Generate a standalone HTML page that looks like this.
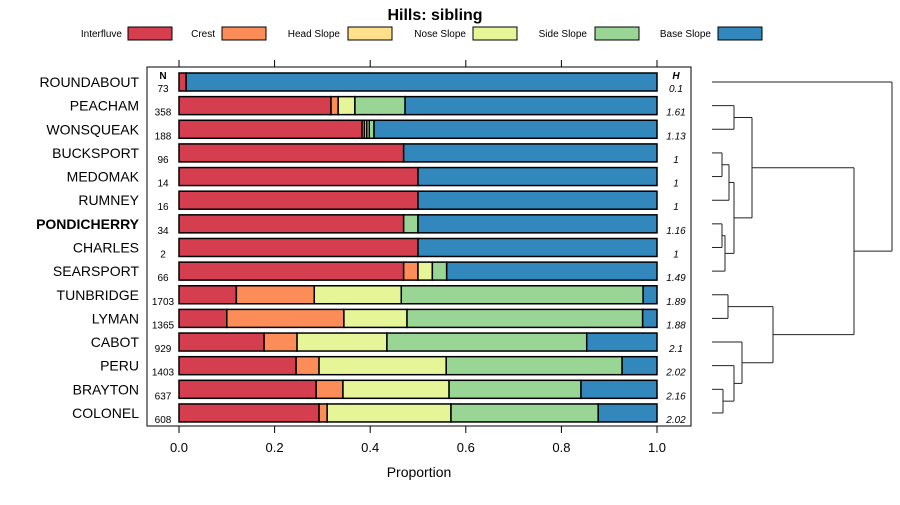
<!DOCTYPE html>
<html><head><meta charset="utf-8"><style>
body{margin:0;background:#fff;}
svg{font-family:"Liberation Sans","DejaVu Sans",sans-serif;}
</style></head><body>
<svg id="chart" width="900" height="500">
<text x="435" y="20" text-anchor="middle" font-size="16" font-weight="bold">Hills: sibling</text>
<g id="legend"></g>
<rect x="147" y="67" width="544" height="359" fill="none" stroke="#000" stroke-width="1"/>
<g id="bars"></g>
<g id="axis"></g>
<g id="dendro"></g>
<text x="419" y="477" text-anchor="middle" font-size="14">Proportion</text>
</svg>
<script>
const categories=["ROUNDABOUT","PEACHAM","WONSQUEAK","BUCKSPORT","MEDOMAK","RUMNEY","PONDICHERRY","CHARLES","SEARSPORT","TUNBRIDGE","LYMAN","CABOT","PERU","BRAYTON","COLONEL"];
const seriesNames=["Interfluve","Crest","Head Slope","Nose Slope","Side Slope","Base Slope"];
const interfluve=[0.015,0.318,0.383,0.47,0.5,0.5,0.47,0.5,0.47,0.12,0.10,0.178,0.245,0.287,0.293];
const crest=[0,0.015,0.005,0,0,0,0,0,0.03,0.163,0.245,0.069,0.048,0.056,0.017];
const headSlope=[0,0,0.005,0,0,0,0,0,0,0,0,0,0,0,0];
const noseSlope=[0,0.035,0.005,0,0,0,0,0,0.03,0.182,0.132,0.188,0.266,0.222,0.259];
const sideSlope=[0,0.105,0.01,0,0,0,0.03,0,0.03,0.506,0.493,0.418,0.368,0.276,0.308];
const baseSlope=[0.985,0.527,0.592,0.53,0.5,0.5,0.5,0.5,0.44,0.029,0.03,0.147,0.073,0.159,0.123];
const nValues=["73","358","188","96","14","16","34","2","66","1703","1365","929","1403","637","608"];
const hValues=["0.1","1.61","1.13","1","1","1","1.16","1","1.49","1.89","1.88","2.1","2.02","2.16","2.02"];
const xTicks=[0,0.2,0.4,0.6,0.8,1.0];
const xTickLabels=["0.0","0.2","0.4","0.6","0.8","1.0"];
const colors=["#d53e4f","#fc8d59","#fee08b","#e6f598","#99d594","#3288bd"];
const NS="http://www.w3.org/2000/svg";
function mk(t,a,p){const e=document.createElementNS(NS,t);for(const k in a)e.setAttribute(k,a[k]);p.appendChild(e);return e;}
const xs=v=>179+v*478;
const ys=i=>82+i*23.64;
const series=[interfluve,crest,headSlope,noseSlope,sideSlope,baseSlope];
const svgEl=document.getElementById('chart');
const bars=document.getElementById('bars');
const legX=[[122,128],[215,222],[340,348],[466,473],[587,595],[711,718]];
const leg=document.getElementById('legend');
seriesNames.forEach((n,j)=>{
  const t=mk('text',{x:legX[j][0],y:37,'text-anchor':'end','font-size':'10'},leg);t.textContent=n;
  
  
  const r=mk('rect',{x:legX[j][1],y:27,width:44,height:13,fill:colors[j],stroke:'#000','stroke-width':1},leg);
  
  
});
let hd=mk('text',{x:163,y:79,'text-anchor':'middle','font-size':'10','font-weight':'bold'},svgEl);hd.textContent='N';


hd=mk('text',{x:676,y:79,'text-anchor':'middle','font-size':'10','font-weight':'bold','font-style':'italic'},svgEl);hd.textContent='H';


categories.forEach((c,i)=>{
  const y=ys(i);
  const lab=mk('text',{x:139,y:y+5,'text-anchor':'end','font-size':'14','font-weight':c==='PONDICHERRY'?'bold':'normal'},svgEl);lab.textContent=c;
  
  
  const n=mk('text',{x:163,y:y+10,'text-anchor':'middle','font-size':'10'},svgEl);n.textContent=nValues[i];
  
  
  const hv=mk('text',{x:676,y:y+10,'text-anchor':'middle','font-size':'10','font-style':'italic'},svgEl);hv.textContent=hValues[i];
  
  
  let cum=0;
  series.forEach((s,j)=>{
    const v=s[i];
    if(v>0){
      const r=mk('rect',{x:xs(cum),y:y-9,width:xs(cum+v)-xs(cum),height:18,fill:colors[j],stroke:'#000','stroke-width':1.5},bars);
      
      
    }
    cum+=v;
  });
});
const ax=document.getElementById('axis');
xTicks.forEach((t,k)=>{
  mk('line',{x1:xs(t),x2:xs(t),y1:60,y2:67,stroke:'#000'},ax);
  mk('line',{x1:xs(t),x2:xs(t),y1:426,y2:433,stroke:'#000'},ax);
  const tl=mk('text',{x:xs(t),y:452,'text-anchor':'middle','font-size':'13'},ax);tl.textContent=xTickLabels[k];
  
  
});
const dg=document.getElementById('dendro');
function seg(x1,y1,x2,y2){mk('line',{x1,y1,x2,y2,stroke:'#222','stroke-width':1},dg);}
function join(a,b,x){seg(a[0],a[1],x,a[1]);seg(b[0],b[1],x,b[1]);seg(x,a[1],x,b[1]);return [x,(a[1]+b[1])/2];}
const L=i=>[712,ys(i)];
const pw=join(L(1),L(2),734);
const bm=join(L(3),L(4),722);
const bmr=join(bm,L(5),729);
const pc=join(L(6),L(7),722);
const pcs=join(pc,L(8),725);
const midCl=join(bmr,pcs,734);
const upperCl=join(pw,midCl,752);
const tl2=join(L(9),L(10),728);
const bc=join(L(13),L(14),723);
const pbc=join(L(12),bc,734);
const cab=join(L(11),pbc,742);
const lowerCl=join(tl2,cab,773);
const bigCl=join(upperCl,lowerCl,854);
join(L(0),bigCl,892);
</script>
</body></html>
